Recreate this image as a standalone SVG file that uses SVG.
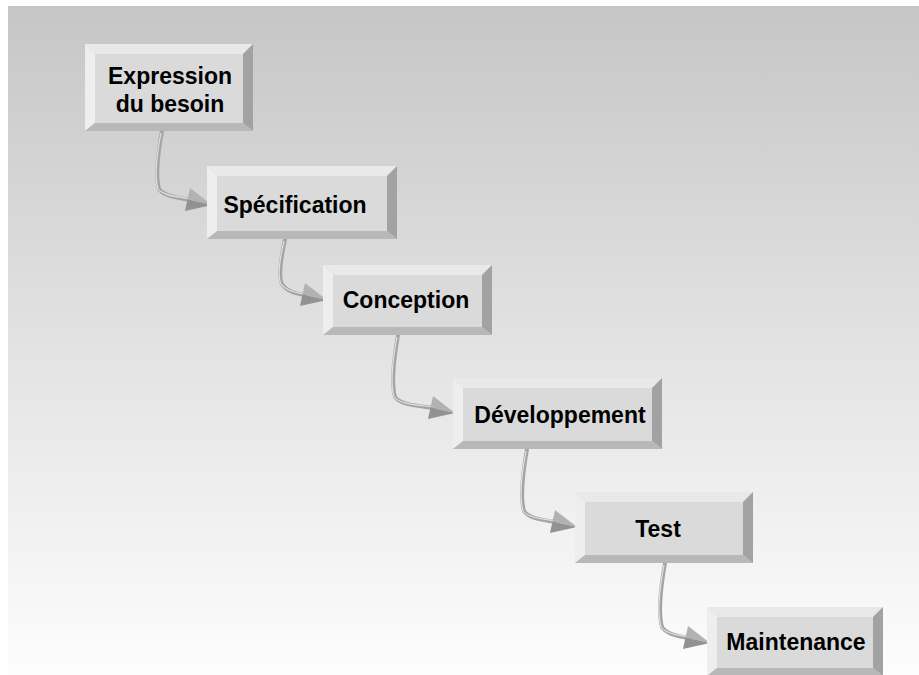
<svg xmlns="http://www.w3.org/2000/svg" width="919" height="675" viewBox="0 0 919 675">
<defs>
<linearGradient id="bg" x1="0" y1="0" x2="0" y2="1">
<stop offset="0" stop-color="#c6c6c6"/>
<stop offset="0.5" stop-color="#e2e2e2"/>
<stop offset="1" stop-color="#fdfdfd"/>
</linearGradient>
<style>
.face{fill:#dadada}
.bt{fill:#e9e9e9}
.bl{fill:#eeeeee}
.br{fill:#a2a2a2}
.bb{fill:#b8b8b8}
.lbl{font-family:"Liberation Sans",Arial,sans-serif;font-weight:bold;font-size:23px;fill:#000;text-anchor:middle}
.shaft{fill:none;stroke:#a4a4a4;stroke-width:4;stroke-linecap:round}
.hl{fill:none;stroke:#e2e2e2;stroke-width:1.2}
.hu{fill:#b2b2b2}
.hd{fill:#929292}
</style>
</defs>
<rect x="0" y="0" width="919" height="675" fill="#ffffff"/>
<rect x="8" y="6" width="911" height="669" fill="url(#bg)"/>

<g id="connectors">
<g id="a1">
<path class="shaft" d="M162,131 C158,153 155,175 159,189 C164,197 182,198 190,200"/>
<path class="hl" d="M161,133 C157,153 154,175 158,189 C163,196 181,197 190,199"/>
<polygon class="hu" points="190,188 212,205 187.5,199.5"/>
<polygon class="hd" points="187.5,199.5 212,205 185,211"/>
</g>
<g id="a2">
<path class="shaft" d="M285,239 C281,258 278,276 282,284 C287,292 297,294 305,295"/>
<path class="hl" d="M284,241 C280,258 277,276 281,284 C286,291 296,293 305,294"/>
<polygon class="hu" points="305,283 327,300 302.5,294.5"/>
<polygon class="hd" points="302.5,294.5 327,300 300,306"/>
</g>
<g id="a3">
<path class="shaft" d="M398,335 C394,358 391,383 395,397 C400,405 420,406 433,408"/>
<path class="hl" d="M397,337 C393,358 390,383 394,397 C399,404 419,405 433,407"/>
<polygon class="hu" points="433,396 455,413 430.5,407.5"/>
<polygon class="hd" points="430.5,407.5 455,413 428,419"/>
</g>
<g id="a4">
<path class="shaft" d="M527,449 C523,472 520,497 524,511 C529,519 545,520 555,522"/>
<path class="hl" d="M526,451 C522,472 519,497 523,511 C528,518 544,519 555,521"/>
<polygon class="hu" points="555,510 577,527 552.5,521.5"/>
<polygon class="hd" points="552.5,521.5 577,527 550,533"/>
</g>
<g id="a5">
<path class="shaft" d="M665,563 C661,586 658,613 662,627 C667,635 680,636 688,638"/>
<path class="hl" d="M664,565 C660,586 657,613 661,627 C666,634 679,635 688,637"/>
<polygon class="hu" points="688,626 710,643 685.5,637.5"/>
<polygon class="hd" points="685.5,637.5 710,643 683,649"/>
</g>
</g>

<g id="n1">
<rect class="face" x="85" y="44" width="168" height="87"/>
<polygon class="bt" points="85,44 253,44 243,54 95,54"/>
<polygon class="bl" points="85,44 95,54 95,123 85,131"/>
<polygon class="br" points="253,44 253,131 243,123 243,54"/>
<polygon class="bb" points="85,131 95,123 243,123 253,131"/>
<text class="lbl" x="170" y="84">Expression</text>
<text class="lbl" x="170" y="112">du besoin</text>
</g>

<g id="n2">
<rect class="face" x="207" y="166" width="190" height="73"/>
<polygon class="bt" points="207,166 397,166 387,176 217,176"/>
<polygon class="bl" points="207,166 217,176 217,231 207,239"/>
<polygon class="br" points="397,166 397,239 387,231 387,176"/>
<polygon class="bb" points="207,239 217,231 387,231 397,239"/>
<text class="lbl" x="295" y="213">Spécification</text>
</g>

<g id="n3">
<rect class="face" x="323" y="265" width="169" height="70"/>
<polygon class="bt" points="323,265 492,265 482,275 333,275"/>
<polygon class="bl" points="323,265 333,275 333,327 323,335"/>
<polygon class="br" points="492,265 492,335 482,327 482,275"/>
<polygon class="bb" points="323,335 333,327 482,327 492,335"/>
<text class="lbl" x="406" y="308">Conception</text>
</g>

<g id="n4">
<rect class="face" x="453" y="378" width="209" height="71"/>
<polygon class="bt" points="453,378 662,378 652,388 463,388"/>
<polygon class="bl" points="453,378 463,388 463,441 453,449"/>
<polygon class="br" points="662,378 662,449 652,441 652,388"/>
<polygon class="bb" points="453,449 463,441 652,441 662,449"/>
<text class="lbl" x="560" y="423">Développement</text>
</g>

<g id="n5">
<rect class="face" x="575" y="492" width="178" height="71"/>
<polygon class="bt" points="575,492 753,492 743,502 585,502"/>
<polygon class="bl" points="575,492 585,502 585,555 575,563"/>
<polygon class="br" points="753,492 753,563 743,555 743,502"/>
<polygon class="bb" points="575,563 585,555 743,555 753,563"/>
<text class="lbl" x="658" y="537">Test</text>
</g>

<g id="n6">
<rect class="face" x="707" y="607" width="176" height="69"/>
<polygon class="bt" points="707,607 883,607 873,617 717,617"/>
<polygon class="bl" points="707,607 717,617 717,668 707,676"/>
<polygon class="br" points="883,607 883,676 873,668 873,617"/>
<polygon class="bb" points="707,676 717,668 873,668 883,676"/>
<text class="lbl" x="796" y="650">Maintenance</text>
</g>
</svg>
